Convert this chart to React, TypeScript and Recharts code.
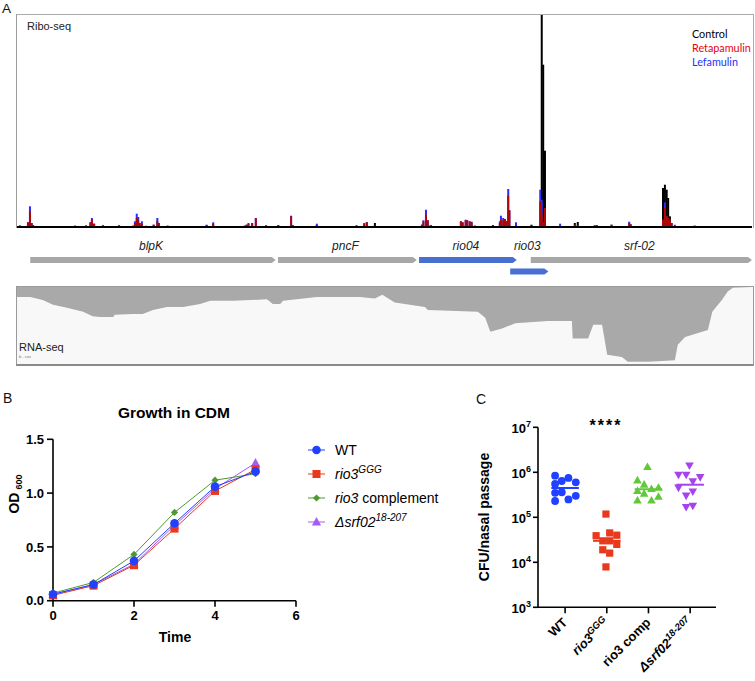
import React from 'react';
import {
  BarChart, Bar, XAxis, YAxis, AreaChart, Area, LineChart, Line,
  ScatterChart, Scatter, ReferenceLine,
} from 'recharts';

const FONT = "'Liberation Sans', Arial, sans-serif";
const LEG_FONT = "Lato, 'Liberation Sans', sans-serif";

// ---------------- Panel A: Ribo-seq (genome position 0..1000) ----------------
const riboPositions = [4, 15, 17.7, 20, 22, 35, 79, 94, 100, 102, 105, 117, 139, 158, 160.5, 163, 165, 167, 170, 175.5, 186, 191, 193, 205, 258, 267, 310, 312.5, 315, 320, 325, 339, 355.5, 373, 375, 408, 462, 472.5, 476, 487, 551, 553, 556.5, 559, 563, 604, 606.4, 610.5, 612.6, 616, 618.6, 623, 647.6, 657, 658.5, 661.6, 664, 666, 668.4, 670, 679, 700, 712, 714, 716, 718.4, 739, 759, 763, 786, 789, 809, 833, 835, 879, 881.6, 884, 886, 888.4, 890.7, 895, 922];
const riboControl = [0, 30, 0, 0, 0, 0, 0, 0, 0, 0, 0, 0, 17, 0, 0, 0, 0, 0, 0, 0, 0, 0, 0, 0, 0, 0, 0, 0, 0, 0, 0, 17, 0, 0, 0, 0, 17, 0, 0, 40, 0, 0, 0, 0, 0, 0, 0, 0, 0, 0, 0, 0, 20, 0, 0, 0, 0, 0, 0, 0, 0, 23, 0, 2120, 1623, 763, 0, 40, 50, 0, 0, 0, 0, 0, 390, 423, 373, 290, 107, 0, 0, 0];
const riboRetapamulin = [10, 47, 157, 40, 20, 8, 13, 15, 47, 73, 33, 17, 0, 13, 40, 90, 67, 40, 30, 10, 23, 57, 40, 13, 20, 33, 13, 23, 27, 40, 87, 0, 20, 107, 20, 20, 0, 33, 47, 0, 23, 57, 123, 67, 20, 57, 47, 67, 67, 57, 47, 13, 17, 40, 73, 67, 80, 57, 313, 167, 0, 17, 257, 140, 50, 190, 0, 23, 20, 0, 20, 23, 40, 27, 73, 190, 107, 90, 73, 40, 0, 13];
const riboLefamulin = [17, 47, 207, 40, 20, 8, 13, 15, 47, 90, 33, 17, 0, 13, 57, 133, 100, 40, 57, 13, 23, 90, 40, 13, 23, 47, 13, 23, 40, 40, 90, 0, 20, 113, 20, 33, 0, 40, 50, 0, 23, 67, 173, 67, 20, 57, 47, 73, 67, 57, 53, 13, 17, 57, 113, 90, 80, 60, 380, 167, 47, 0, 373, 273, 0, 190, 33, 0, 0, 20, 0, 23, 53, 27, 73, 247, 107, 90, 73, 40, 23, 13];

const geneNames = ['blpK', 'pncF', 'rio04', 'rio03', 'srf-02'];
const geneStarts = [18, 355, 547, 671, 699];
const geneEnds = [352, 544, 680, 723, 1000];
const geneRows = [0, 0, 0, 1, 0];
const highlightedGenes = ['rio04', 'rio03'];

const rnaPositions = [0, 18, 35, 49, 68, 90, 103, 113, 131, 133, 158, 171, 185, 204, 226, 249, 263, 294, 340, 348, 358, 362, 408, 467, 476, 487, 497, 514, 555, 559, 627, 637, 644, 660, 678, 722, 755, 756, 777, 784, 796, 803, 823, 831, 859, 895, 899, 909, 940, 946, 959, 967, 974, 1000];
const rnaCoverage = [13, 13, 17, 23, 27, 32, 38, 39, 39, 36, 35, 35, 30, 26, 26, 22, 18, 18, 16, 22, 22, 18, 13, 13, 14, 15, 10, 20, 26, 30, 32, 40, 58, 54, 47, 44, 44, 67, 67, 49, 49, 88, 91, 97, 97, 95, 75, 65, 56, 32, 17, 6, 1, 0];

// ---------------- Panel B: growth ----------------
const timePoints = [0, 1, 2, 3, 4, 5];
const odWT = [0.06, 0.15, 0.37, 0.72, 1.06, 1.2];
const odRio3 = [0.05, 0.14, 0.33, 0.67, 1.02, 1.22];
const odComp = [0.07, 0.17, 0.43, 0.82, 1.12, 1.18];
const odDelta = [0.06, 0.15, 0.34, 0.7, 1.04, 1.28];
const growthXTicks = [0, 2, 4, 6];
const growthYTicks = [0, 0.5, 1, 1.5];

// ---------------- Panel C: colonisation ----------------
const cfuCategoryBase = ['WT', 'rio3', 'rio3 comp', 'Δsrf02'];
const cfuCategorySup = ['', 'GGG', '', '18-207'];
const cfuTicks = [1e3, 1e4, 1e5, 1e6, 1e7];
const wtOffsets = [-0.24, 0.08, -0.08, -0.24, 0.256, -0.08, -0.24, 0.256, 0.08, -0.24];
const wtCfu = [8.4e5, 7.5e5, 6.4e5, 5.5e5, 6.0e5, 3.6e5, 3.5e5, 3.0e5, 2.5e5, 2.3e5];
const rio3Offsets = [-0.02, -0.256, 0.07, 0.24, -0.096, 0.07, 0.24, -0.096, 0.07, -0.02];
const rio3Cfu = [1.18e5, 3.9e4, 4.5e4, 4.0e4, 3.0e4, 3.0e4, 2.5e4, 1.9e4, 1.6e4, 7.9e3];
const compOffsets = [-0.024, -0.264, -0.104, -0.264, 0.072, 0.24, -0.104, -0.264, 0.072, 0.24];
const compCfu = [1.33e6, 6.7e5, 5.4e5, 3.9e5, 4.3e5, 4.6e5, 3.4e5, 2.4e5, 2.4e5, 2.9e5];
const deltaOffsets = [-0.016, -0.28, -0.096, 0.24, 0.064, -0.28, 0.064, -0.096, -0.096, 0.064];
const deltaCfu = [1.4e6, 8.7e5, 8.7e5, 7.7e5, 6.2e5, 4.5e5, 3.7e5, 3.0e5, 1.67e5, 1.78e5];
const cfuMedians = [4.48e5, 3.0e4, 4.2e5, 5.3e5];

// ---------------- tables ----------------
const riboData = riboPositions.map((pos, i) => ({
  pos, control: riboControl[i], retapamulin: riboRetapamulin[i], lefamulin: riboLefamulin[i],
}));
const geneData = geneNames.map((name, i) => ({ name, span: [geneStarts[i], geneEnds[i]], row: geneRows[i] }));
const rnaData = rnaPositions.map((pos, i) => ({ pos, cov: rnaCoverage[i] }));
const growthData = timePoints.map((t, i) => ({ t, wt: odWT[i], rio3: odRio3[i], comp: odComp[i], delta: odDelta[i] }));
const mkGroup = (idx: number, offs: number[], vals: number[]) => offs.map((o, i) => ({ x: idx + o, y: vals[i] }));
const cfuGroups = [
  mkGroup(0, wtOffsets, wtCfu),
  mkGroup(1, rio3Offsets, rio3Cfu),
  mkGroup(2, compOffsets, compCfu),
  mkGroup(3, deltaOffsets, deltaCfu),
];

// ---------------- styles ----------------
const C_BLUE = '#2140ff';
const C_RED = '#e8391d';
const C_GREEN_B = '#4e9a2e';
const C_PURPLE = '#a45cf2';
const C_GREEN_C = '#62c83a';
const C_PURPLE_C = '#a743ee';

const RiboBar = (p: any) => {
  if (!p.height || p.height <= 0) return <g />;
  return <rect x={p.x + p.width / 2 - 1} y={p.y} width={2} height={p.height} fill={p.fill} />;
};

const GENE_LABEL_Y = 14.2;
const GeneArrow = (p: any) => {
  const { x, y, width, height, payload } = p;
  const tip = Math.min(4, width / 3);
  const color = highlightedGenes.includes(payload.name) ? '#4a6fd3' : '#a7a7a7';
  const pts = `${x},${y} ${x + width - tip},${y} ${x + width},${y + height / 2} ${x + width - tip},${y + height} ${x},${y + height}`;
  return (
    <g>
      <polygon points={pts} fill={color} />
      <text x={x + width / 2 - 2} y={GENE_LABEL_Y} textAnchor="middle" fontStyle="italic" fontSize={12} fontFamily={FONT} fill="#222">{payload.name}</text>
    </g>
  );
};

const markerB = (kind: string, color: string) => (p: any) => {
  const { cx, cy, index } = p;
  if (cx == null || cy == null) return <g key={`m${kind}${index}`} />;
  if (kind === 'circle') return <circle key={`m${kind}${index}`} cx={cx} cy={cy} r={4.3} fill={color} />;
  if (kind === 'square') return <rect key={`m${kind}${index}`} x={cx - 4} y={cy - 4} width={8} height={8} fill={color} />;
  if (kind === 'diamond') return <polygon key={`m${kind}${index}`} points={`${cx},${cy - 3.6} ${cx + 3.6},${cy} ${cx},${cy + 3.6} ${cx - 3.6},${cy}`} fill={color} />;
  return <polygon key={`m${kind}${index}`} points={`${cx},${cy - 5} ${cx + 4.6},${cy + 3.5} ${cx - 4.6},${cy + 3.5}`} fill={color} />;
};

const shapeC = (kind: string) => (p: any) => {
  const { cx, cy, fill } = p;
  if (kind === 'circle') return <circle cx={cx} cy={cy} r={3.9} fill={fill} />;
  if (kind === 'square') return <rect x={cx - 3.6} y={cy - 3.6} width={7.2} height={7.2} fill={fill} />;
  if (kind === 'up') return <polygon points={`${cx},${cy - 4.3} ${cx + 4.3},${cy + 3.3} ${cx - 4.3},${cy + 3.3}`} fill={fill} />;
  return <polygon points={`${cx},${cy + 4.3} ${cx + 4.3},${cy - 3.3} ${cx - 4.3},${cy - 3.3}`} fill={fill} />;
};

const CfuYTick = (p: any) => {
  const exp = Math.round(Math.log10(p.payload.value));
  return (
    <text x={p.x} y={p.y} dy={5.5} textAnchor="end" fontFamily={FONT} fontWeight="bold" fontSize={13} fill="#000">
      10<tspan dy={-6} fontSize={9}>{exp}</tspan>
    </text>
  );
};

const CfuXTick = (p: any) => {
  const idx = Math.round(p.payload.value);
  const base = cfuCategoryBase[idx];
  const sup = cfuCategorySup[idx];
  const italic = idx === 1 || idx === 3;
  return (
    <text transform={`translate(${p.x + 3},${p.y + 8}) rotate(-45)`} textAnchor="end" fontFamily={FONT} fontWeight="bold" fontSize={13} fill="#000" fontStyle={italic ? 'italic' : 'normal'}>
      {base}{sup ? <tspan dy={-5} fontSize={9.5}>{sup}</tspan> : null}
    </text>
  );
};

const axisB = { stroke: '#000', strokeWidth: 1.6 };
const tickFontB = { fill: '#000', fontSize: 13, fontWeight: 'bold', fontFamily: FONT } as any;

export default function App() {
  const legendRows = [
    { kind: 'circle', color: C_BLUE, y: 450 },
    { kind: 'square', color: C_RED, y: 474 },
    { kind: 'diamond', color: C_GREEN_B, y: 498 },
    { kind: 'triangle', color: C_PURPLE, y: 522 },
  ];
  return (
    <div style={{ position: 'absolute', left: 0, top: 0, width: 755, height: 681, background: '#fff', overflow: 'hidden' }}>
      {/* Ribo-seq frame */}
      <div style={{ position: 'absolute', left: 16, top: 14, width: 738, height: 214, boxSizing: 'border-box', borderLeft: '1.5px solid #9c9c9c', borderTop: '1.5px solid #ababab', borderRight: '1.5px solid #ababab' }} />
      <div style={{ position: 'absolute', left: 17, top: 15 }}>
        <BarChart width={735} height={213} data={riboData} margin={{ top: 0, right: 0, bottom: 0, left: 0 }}>
          <XAxis xAxisId="c" type="number" dataKey="pos" domain={[0, 1000]} height={1} tick={false} tickLine={false} axisLine={{ stroke: '#000', strokeWidth: 2 }} />
          <XAxis xAxisId="l" type="number" dataKey="pos" domain={[0, 1000]} hide />
          <XAxis xAxisId="r" type="number" dataKey="pos" domain={[0, 1000]} hide />
          <YAxis type="number" domain={[0, 2120]} hide />
          <Bar xAxisId="c" dataKey="control" fill="#000" barSize={2} shape={RiboBar} isAnimationActive={false} />
          <Bar xAxisId="l" dataKey="lefamulin" fill="#2a2aff" barSize={2} shape={RiboBar} isAnimationActive={false} />
          <Bar xAxisId="r" dataKey="retapamulin" fill="#b00606" barSize={2} shape={RiboBar} isAnimationActive={false} />
        </BarChart>
      </div>

      {/* gene track */}
      <div style={{ position: 'absolute', left: 17, top: 236 }}>
        <BarChart layout="vertical" width={735} height={46} data={geneData} margin={{ top: 18, right: 0, bottom: 5, left: 0 }}>
          <XAxis type="number" domain={[0, 1000]} hide />
          <YAxis type="number" dataKey="row" domain={[-0.5, 1.5]} hide />
          <Bar dataKey="span" barSize={6} shape={GeneArrow} isAnimationActive={false} />
        </BarChart>
      </div>

      {/* RNA-seq */}
      <div style={{ position: 'absolute', left: 16, top: 286, width: 738, height: 80, boxSizing: 'border-box', background: '#f8f8f8', border: '1px solid #9a9a9a', borderBottom: '2px solid #8a8a8a' }} />
      <div style={{ position: 'absolute', left: 17, top: 287 }}>
        <AreaChart width={735} height={77} data={rnaData} margin={{ top: 0, right: 0, bottom: 0, left: 0 }}>
          <XAxis type="number" dataKey="pos" domain={[0, 1000]} hide />
          <YAxis type="number" domain={[0, 100]} reversed hide />
          <Area type="linear" dataKey="cov" fill="#a9a9a9" fillOpacity={1} stroke="none" baseValue={0} isAnimationActive={false} />
        </AreaChart>
      </div>

      {/* Panel B */}
      <div style={{ position: 'absolute', left: 0, top: 400 }}>
        <LineChart width={305} height={250} data={growthData} margin={{ top: 39.3, right: 9, bottom: 19.3, left: 13 }}>
          <XAxis type="number" dataKey="t" domain={[0, 6]} ticks={growthXTicks} height={30} tickSize={6} tickMargin={4} axisLine={axisB} tickLine={axisB} tick={tickFontB} />
          <YAxis type="number" domain={[0, 1.5]} ticks={growthYTicks} width={40} tickSize={6} tickMargin={3} axisLine={axisB} tickLine={axisB} tick={tickFontB} tickFormatter={(v: number) => v.toFixed(1)} />
          <Line dataKey="delta" stroke={C_PURPLE} strokeWidth={1} dot={markerB('triangle', C_PURPLE)} activeDot={false} isAnimationActive={false} />
          <Line dataKey="comp" stroke={C_GREEN_B} strokeWidth={1} dot={markerB('diamond', C_GREEN_B)} activeDot={false} isAnimationActive={false} />
          <Line dataKey="rio3" stroke={C_RED} strokeWidth={1} dot={markerB('square', C_RED)} activeDot={false} isAnimationActive={false} />
          <Line dataKey="wt" stroke={C_BLUE} strokeWidth={1} dot={markerB('circle', C_BLUE)} activeDot={false} isAnimationActive={false} />
        </LineChart>
      </div>

      {/* Panel C */}
      <div style={{ position: 'absolute', left: 470, top: 410 }}>
        <ScatterChart width={260} height={271} margin={{ top: 17.3, right: 14, bottom: 3.7, left: 18 }}>
          <XAxis type="number" dataKey="x" domain={[-0.65, 3.62]} ticks={[0, 1, 2, 3]} height={70} tickSize={6} tickMargin={2} axisLine={axisB} tickLine={axisB} tick={<CfuXTick />} interval={0} />
          <YAxis type="number" dataKey="y" scale="log" domain={[1e3, 1e7]} ticks={cfuTicks} width={50} tickSize={5} tickMargin={2} axisLine={axisB} tickLine={axisB} tick={<CfuYTick />} allowDataOverflow interval={0} />
          <Scatter data={cfuGroups[0]} fill={C_BLUE} shape={shapeC('circle')} isAnimationActive={false} />
          <Scatter data={cfuGroups[1]} fill={C_RED} shape={shapeC('square')} isAnimationActive={false} />
          <Scatter data={cfuGroups[2]} fill={C_GREEN_C} shape={shapeC('up')} isAnimationActive={false} />
          <Scatter data={cfuGroups[3]} fill={C_PURPLE_C} shape={shapeC('down')} isAnimationActive={false} />
          {cfuMedians.map((m, i) => (
            <ReferenceLine key={`med${i}`} segment={[{ x: i - 0.33, y: m }, { x: i + 0.33, y: m }]} stroke={[C_BLUE, C_RED, C_GREEN_C, C_PURPLE_C][i]} strokeWidth={2} />
          ))}
        </ScatterChart>
      </div>

      {/* text overlay */}
      <svg width={755} height={681} style={{ position: 'absolute', left: 0, top: 0, pointerEvents: 'none' }}>
        <text x={2} y={13} fontFamily={FONT} fontSize={13.5} fill="#111">A</text>
        <text x={27} y={29.5} fontFamily={FONT} fontSize={11} fill="#222">Ribo-seq</text>
        <text x={692} y={38} fontFamily={LEG_FONT} fontSize={10.8} fill="#000">Control</text>
        <text x={692} y={51.8} fontFamily={LEG_FONT} fontSize={10.8} fill="#e8000b">Retapamulin</text>
        <text x={692} y={65.5} fontFamily={LEG_FONT} fontSize={10.8} fill="#1f2eff">Lefamulin</text>
        <text x={19} y={350.5} fontFamily={FONT} fontSize={11} fill="#222">RNA-seq</text>
        <text x={19} y={358} fontFamily={FONT} fontSize={4} fill="#777">b - cov</text>

        <text x={3} y={403} fontFamily={FONT} fontSize={14} fill="#111">B</text>
        <text x={476} y={404} fontFamily={FONT} fontSize={14} fill="#111">C</text>

        <text x={174} y={418} textAnchor="middle" fontFamily={FONT} fontWeight="bold" fontSize={15.5} fill="#000">Growth in CDM</text>
        <text x={175} y={641.5} textAnchor="middle" fontFamily={FONT} fontWeight="bold" fontSize={14} fill="#000">Time</text>
        <text transform="translate(18.5,494) rotate(-90)" textAnchor="middle" fontFamily={FONT} fontWeight="bold" fontSize={14} fill="#000">
          OD<tspan dx={3} dy={3} fontSize={9}>600</tspan>
        </text>

        {legendRows.map((r, i) => (
          <g key={`lg${i}`}>
            <line x1={308} x2={325} y1={r.y} y2={r.y} stroke={r.color} strokeWidth={1} />
            {markerB(r.kind, r.color)({ cx: 316.5, cy: r.y, index: i })}
          </g>
        ))}
        <text x={335} y={455} fontFamily={FONT} fontSize={14} fill="#000">WT</text>
        <text x={335} y={479} fontFamily={FONT} fontSize={14} fill="#000" fontStyle="italic">rio3<tspan dy={-6} fontSize={10}>GGG</tspan></text>
        <text x={335} y={503} fontFamily={FONT} fontSize={14} fill="#000"><tspan fontStyle="italic">rio3</tspan> complement</text>
        <text x={335} y={527} fontFamily={FONT} fontSize={14} fill="#000" fontStyle="italic">Δsrf02<tspan dy={-6} fontSize={10}>18-207</tspan></text>

        <text transform="translate(489,517) rotate(-90)" textAnchor="middle" fontFamily={FONT} fontWeight="bold" fontSize={14} fill="#000">CFU/nasal passage</text>
        <text x={606} y={431} textAnchor="middle" fontFamily={FONT} fontWeight="bold" fontSize={16} letterSpacing={2} fill="#000">****</text>
      </svg>
    </div>
  );
}
